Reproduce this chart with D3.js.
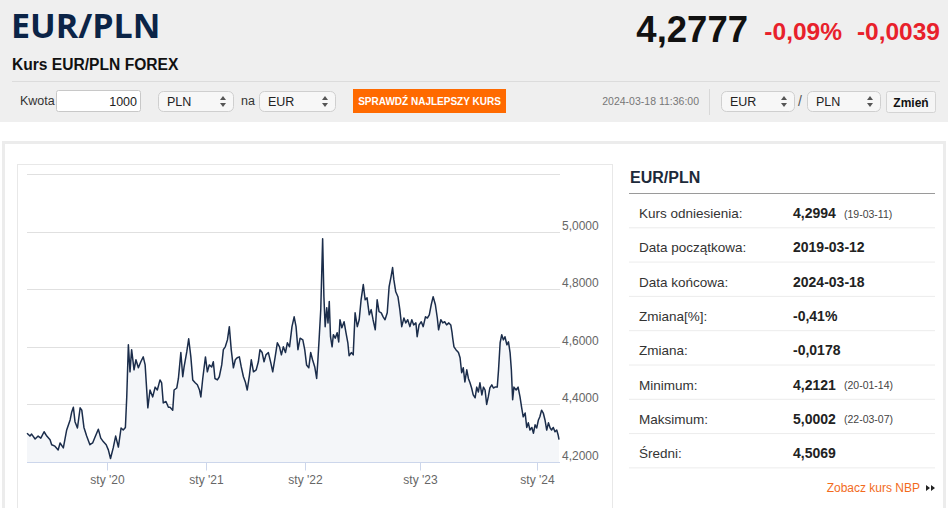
<!DOCTYPE html>
<meta charset="utf-8">
<script src="https://d3js.org/d3.v7.min.js"></script>
<style>
  body { margin: 0; background: #fff; }
  svg text { font-family: "Liberation Sans", Arial, sans-serif; }
</style>
<svg id="page" width="948" height="508"></svg>
<script>
// EUR/PLN daily rate
var dates = [
  "2019-03-12","2019-03-23","2019-03-29","2019-04-11","2019-04-22","2019-05-02","2019-05-14","2019-05-24",
  "2019-06-05","2019-06-11","2019-06-23","2019-07-05","2019-07-12","2019-07-24","2019-08-05","2019-08-18",
  "2019-08-24","2019-08-30","2019-09-05","2019-09-14","2019-09-24","2019-09-30","2019-10-08","2019-10-18",
  "2019-10-30","2019-11-09","2019-11-18","2019-11-30","2019-12-09","2019-12-19","2019-12-29",
  "2020-01-06","2020-01-14","2020-01-24","2020-02-02","2020-02-12","2020-02-22","2020-03-01","2020-03-09",
  "2020-03-14","2020-03-20","2020-03-26","2020-04-01","2020-04-10","2020-04-17","2020-04-26","2020-05-05",
  "2020-05-14","2020-05-21","2020-05-31","2020-06-08","2020-06-18","2020-06-27","2020-07-05","2020-07-15",
  "2020-07-21","2020-07-27","2020-08-06","2020-08-15","2020-08-21","2020-08-31","2020-09-05","2020-09-15",
  "2020-09-21","2020-09-30","2020-10-07","2020-10-12","2020-10-22","2020-10-29","2020-11-06","2020-11-13",
  "2020-11-22","2020-11-30","2020-12-08","2020-12-13","2020-12-20","2020-12-30",
  "2021-01-06","2021-01-13","2021-01-22","2021-01-28","2021-02-03","2021-02-12","2021-02-19","2021-02-28",
  "2021-03-06","2021-03-13","2021-03-21","2021-03-28","2021-04-04","2021-04-12","2021-04-19","2021-04-26",
  "2021-05-04","2021-05-11","2021-05-19","2021-05-26","2021-06-02","2021-06-10","2021-06-17","2021-06-25",
  "2021-07-05","2021-07-13","2021-07-19","2021-07-27","2021-08-03","2021-08-10","2021-08-19","2021-08-28",
  "2021-09-04","2021-09-13","2021-09-21","2021-09-29","2021-10-06","2021-10-13","2021-10-21","2021-10-28",
  "2021-11-05","2021-11-14","2021-11-22","2021-11-29","2021-12-06","2021-12-14","2021-12-24","2021-12-31",
  "2022-01-06","2022-01-13","2022-01-19","2022-01-25","2022-02-01","2022-02-07","2022-02-11","2022-02-15",
  "2022-02-20","2022-02-26","2022-03-02","2022-03-06","2022-03-11","2022-03-15","2022-03-19","2022-03-23",
  "2022-03-28","2022-04-01","2022-04-07","2022-04-13","2022-04-18","2022-04-22","2022-04-28","2022-05-05",
  "2022-05-11","2022-05-17","2022-05-21","2022-05-28","2022-06-03","2022-06-09","2022-06-16","2022-06-22",
  "2022-06-28","2022-07-05","2022-07-11","2022-07-17","2022-07-24","2022-07-30","2022-08-05","2022-08-12",
  "2022-08-18","2022-08-24","2022-08-31","2022-09-06","2022-09-12","2022-09-19","2022-09-25","2022-10-01",
  "2022-10-06","2022-10-10","2022-10-16","2022-10-23","2022-10-29","2022-11-04","2022-11-11","2022-11-17",
  "2022-11-23","2022-11-30","2022-12-06","2022-12-12","2022-12-19","2022-12-23","2022-12-29",
  "2023-01-05","2023-01-11","2023-01-18","2023-01-24","2023-01-30","2023-02-05","2023-02-11","2023-02-18",
  "2023-02-24","2023-02-28","2023-03-07","2023-03-13","2023-03-19","2023-03-25","2023-04-01","2023-04-07",
  "2023-04-11","2023-04-13","2023-04-17","2023-04-23","2023-05-01","2023-05-06","2023-05-11","2023-05-16",
  "2023-05-21","2023-05-27","2023-06-01","2023-06-06","2023-06-11","2023-06-16","2023-06-22","2023-06-27",
  "2023-07-02","2023-07-07","2023-07-13","2023-07-18","2023-07-23","2023-07-28","2023-08-02","2023-08-07",
  "2023-08-13","2023-08-18","2023-08-23","2023-08-30","2023-09-03","2023-09-08","2023-09-13","2023-09-18",
  "2023-09-23","2023-09-29","2023-10-04","2023-10-09","2023-10-13","2023-10-17","2023-10-21","2023-10-28",
  "2023-11-03","2023-11-09","2023-11-14","2023-11-19","2023-11-25","2023-11-30","2023-12-05","2023-12-10",
  "2023-12-16","2023-12-21","2023-12-26","2023-12-31",
  "2024-01-06","2024-01-11","2024-01-17","2024-01-23","2024-01-29","2024-02-04","2024-02-10","2024-02-16",
  "2024-02-21","2024-02-27","2024-03-04","2024-03-10","2024-03-15","2024-03-18"
];
var rates = [
  4.300,4.290,4.297,4.280,4.290,4.283,4.305,4.290,
  4.277,4.260,4.255,4.242,4.266,4.249,4.310,4.346,
  4.374,4.390,4.340,4.318,4.388,4.380,4.320,4.290,
  4.260,4.266,4.287,4.314,4.283,4.270,4.260,
  4.242,4.212,4.249,4.290,4.252,4.318,4.311,4.320,
  4.426,4.607,4.513,4.590,4.520,4.555,4.527,4.548,
  4.565,4.537,4.388,4.450,4.426,4.460,4.450,4.485,
  4.475,4.405,4.410,4.390,4.390,4.380,4.450,4.457,
  4.490,4.580,4.496,4.530,4.583,4.628,4.565,4.485,
  4.475,4.468,4.450,4.426,4.490,4.565,
  4.513,4.537,4.530,4.548,4.490,4.485,4.496,4.537,
  4.590,4.600,4.624,4.670,4.590,4.527,4.555,4.562,
  4.565,4.530,4.496,4.478,4.450,4.500,4.555,4.513,
  4.520,4.548,4.590,4.580,4.548,4.572,4.580,4.544,
  4.513,4.565,4.614,4.600,4.572,4.600,4.580,4.614,
  4.600,4.670,4.704,4.670,4.590,4.630,4.624,4.590,
  4.537,4.527,4.580,4.555,4.530,4.490,4.555,4.630,
  4.729,4.975,4.774,4.670,4.736,4.683,4.757,4.635,
  4.600,4.642,4.630,4.649,4.617,4.694,4.666,4.687,
  4.649,4.614,4.569,4.580,4.572,4.718,4.670,4.694,
  4.763,4.816,4.763,4.770,4.711,4.729,4.694,4.659,
  4.763,4.722,4.718,4.704,4.694,4.718,4.809,4.843,
  4.875,4.833,4.791,4.774,4.729,4.670,4.700,4.683,
  4.694,4.670,4.694,4.676,4.683,4.635,4.676,
  4.687,4.670,4.704,4.700,4.711,4.746,4.774,4.746,
  4.700,4.659,4.694,4.683,4.687,4.676,4.683,4.676,
  4.649,4.630,4.600,4.590,4.580,4.562,4.510,4.527,
  4.478,4.520,4.490,4.475,4.457,4.433,4.423,4.460,
  4.443,4.475,4.433,4.460,4.450,4.400,4.426,4.457,
  4.468,4.457,4.460,4.460,4.520,4.614,4.642,4.624,
  4.635,4.607,4.617,4.580,4.520,4.416,4.460,4.450,
  4.460,4.426,4.390,4.357,4.370,4.320,4.336,4.311,
  4.320,4.300,4.329,4.318,
  4.346,4.357,4.380,4.370,4.346,4.311,4.336,4.318,
  4.311,4.320,4.305,4.311,4.294,4.2777
];

// ordinal-style axis breakpoints (start, year starts, end)
var axisBreaks = ["2019-03-12","2020-01-01","2021-01-01","2022-01-01","2023-01-01","2024-01-01","2024-03-18"];
var xTickDates = ["2020-01-01","2021-01-01","2022-01-01","2023-01-01","2024-01-01"];
var xTickLabels = ["sty '20","sty '21","sty '22","sty '23","sty '24"];
var yTicks = [4.2, 4.4, 4.6, 4.8, 5.0, 5.2];
var yTickLabels = ["4,2000","4,4000","4,6000","4,8000","5,0000",""];

var statLabels = ["Kurs odniesienia:","Data początkowa:","Data końcowa:","Zmiana[%]:","Zmiana:","Minimum:","Maksimum:","Średni:"];
var statValues = ["4,2994","2019-03-12","2024-03-18","-0,41%","-0,0178","4,2121","5,0002","4,5069"];
var statNotes  = ["(19-03-11)","","","","","(20-01-14)","(22-03-07)",""];

var parse = d3.timeParse("%Y-%m-%d");
var data = dates.map(function(d, i) { return { date: parse(d), rate: rates[i] }; });

var svg = d3.select("#page");

// ---------- header ----------
svg.append("rect").attr("x", 0).attr("y", 0).attr("width", 948).attr("height", 122).attr("fill", "#efefef");

svg.append("text").attr("x", 11).attr("y", 38)
  .style("font-family", "'Open Sans', sans-serif").style("font-weight", 700)
  .style("font-size", "34px").attr("fill", "#0b2447").text("EUR/PLN");

svg.append("text").attr("x", 12).attr("y", 70)
  .style("font-weight", "bold").style("font-size", "15.6px").attr("fill", "#111")
  .text("Kurs EUR/PLN FOREX");

svg.append("text").attr("x", 748).attr("y", 42).attr("text-anchor", "end")
  .style("font-weight", "bold").style("font-size", "36.5px").attr("fill", "#111").text("4,2777");
svg.append("text").attr("x", 842).attr("y", 40).attr("text-anchor", "end")
  .style("font-weight", "bold").style("font-size", "24.5px").attr("fill", "#e8212b").text("-0,09%");
svg.append("text").attr("x", 940).attr("y", 40).attr("text-anchor", "end")
  .style("font-weight", "bold").style("font-size", "24.5px").attr("fill", "#e8212b").text("-0,0039");

svg.append("line").attr("x1", 12).attr("x2", 940).attr("y1", 81.5).attr("y2", 81.5)
  .attr("stroke", "#dcdcdc");

// controls row
svg.append("text").attr("x", 20).attr("y", 105).style("font-size", "12.5px").attr("fill", "#333").text("Kwota");
svg.append("rect").attr("x", 56.5).attr("y", 90.5).attr("width", 84).attr("height", 21)
  .attr("fill", "#fff").attr("stroke", "#c8c8c8").attr("rx", 2);
svg.append("text").attr("x", 137).attr("y", 106).attr("text-anchor", "end")
  .style("font-size", "12.5px").attr("fill", "#222").text("1000");

function selectBox(x, w, label) {
  var g = svg.append("g").attr("transform", "translate(" + x + ",91)");
  g.append("rect").attr("x", 0.5).attr("y", 0.5).attr("width", w).attr("height", 20)
    .attr("rx", 5).attr("fill", "#f7f7f7").attr("stroke", "#cfcfcf");
  g.append("text").attr("x", 9).attr("y", 15).style("font-size", "12.5px").attr("fill", "#222").text(label);
  g.append("path").attr("d", "M" + (w - 13) + ",9 l3,-4 l3,4 z M" + (w - 13) + ",12 l3,4 l3,-4 z").attr("fill", "#555");
}
selectBox(158, 75, "PLN");
svg.append("text").attr("x", 241).attr("y", 105).style("font-size", "12.5px").attr("fill", "#333").text("na");
selectBox(259, 76, "EUR");

svg.append("rect").attr("x", 353).attr("y", 89).attr("width", 153).attr("height", 24).attr("fill", "#ff6a00");
svg.append("text").attr("x", 429.5).attr("y", 105).attr("text-anchor", "middle")
  .style("font-weight", "bold").style("font-size", "10px").attr("fill", "#fff")
  .text("SPRAWDŹ NAJLEPSZY KURS");

svg.append("text").attr("x", 699).attr("y", 105).attr("text-anchor", "end")
  .style("font-size", "10.5px").attr("fill", "#777").text("2024-03-18 11:36:00");
svg.append("line").attr("x1", 709.5).attr("x2", 709.5).attr("y1", 89).attr("y2", 115).attr("stroke", "#d8d8d8");

selectBox(721, 73, "EUR");
svg.append("text").attr("x", 798).attr("y", 106).style("font-size", "14px").attr("fill", "#555").text("/");
selectBox(807, 73, "PLN");

svg.append("rect").attr("x", 886.5).attr("y", 91.5).attr("width", 49).attr("height", 21)
  .attr("rx", 2).attr("fill", "#f5f5f5").attr("stroke", "#d4d4d4");
svg.append("text").attr("x", 911).attr("y", 106.5).attr("text-anchor", "middle")
  .style("font-weight", "bold").style("font-size", "12px").attr("fill", "#111").text("Zmień");

// ---------- panel ----------
svg.append("rect").attr("x", 3.5).attr("y", 142.5).attr("width", 941).attr("height", 380)
  .attr("fill", "#fff").attr("stroke", "#ececec").attr("stroke-width", 3);
svg.append("rect").attr("x", 17.5).attr("y", 164.5).attr("width", 595).attr("height", 360)
  .attr("fill", "#fff").attr("stroke", "#e8e8e8");

// ---------- chart ----------
var x = d3.scaleTime()
  .domain(axisBreaks.map(parse))
  .range([27, 107, 206, 305, 420, 537, 559]);
var y = d3.scaleLinear().domain([4.2, 5.2]).range([462, 174]);

var chart = svg.append("g");

chart.selectAll(".grid").data(yTicks).enter().append("line")
  .attr("x1", 27).attr("x2", 560)
  .attr("y1", function(d) { return Math.round(y(d)) + 0.5; })
  .attr("y2", function(d) { return Math.round(y(d)) + 0.5; })
  .attr("stroke", "#e0e0e0");

chart.append("path").datum(data)
  .attr("fill", "#f4f6f9")
  .attr("d", d3.area().x(function(d) { return x(d.date); }).y0(y(4.2)).y1(function(d) { return y(d.rate); }));

chart.append("path").datum(data)
  .attr("fill", "none").attr("stroke", "#1b2d4b").attr("stroke-width", 1.5).attr("stroke-linejoin", "round")
  .attr("d", d3.line().x(function(d) { return x(d.date); }).y(function(d) { return y(d.rate); }));

// x axis
var xAxis = d3.axisBottom(x)
  .tickValues(xTickDates.map(parse))
  .tickFormat(function(d, i) { return xTickLabels[i]; })
  .tickSize(8).tickPadding(5);
var gx = chart.append("g").attr("transform", "translate(0," + (y(4.2) + 0.5) + ")").call(xAxis);
gx.select(".domain").attr("stroke", "#ccd6eb").attr("d", "M27,0H560");
gx.selectAll(".tick line").attr("stroke", "#ccd6eb");
gx.selectAll(".tick text").attr("fill", "#666").style("font-size", "12px")
  .style("font-family", "'Liberation Sans', Arial, sans-serif");

// y labels
chart.selectAll(".ylab").data(yTicks).enter().append("text")
  .attr("x", 562).attr("y", function(d) { return y(d) - 2; })
  .style("font-size", "12px").attr("fill", "#666")
  .text(function(d, i) { return yTickLabels[i]; });

// ---------- stats table ----------
var t = svg.append("g");
t.append("text").attr("x", 630).attr("y", 183).style("font-weight", "bold").style("font-size", "16px")
  .attr("fill", "#1d2a3a").text("EUR/PLN");
t.append("line").attr("x1", 629).attr("x2", 935).attr("y1", 193.5).attr("y2", 193.5).attr("stroke", "#9a9a9a");

var rowH = 34.3;
var rows = t.selectAll(".row").data(statLabels).enter().append("g")
  .attr("transform", function(d, i) { return "translate(0," + (194 + i * rowH) + ")"; });
rows.append("line").attr("x1", 629).attr("x2", 935).attr("y1", rowH - 0.5).attr("y2", rowH - 0.5).attr("stroke", "#ececec");
rows.append("text").attr("x", 639).attr("y", 24).style("font-size", "13.5px").attr("fill", "#333")
  .text(function(d) { return d; });
rows.append("text").attr("x", 793).attr("y", 24).style("font-weight", "bold").style("font-size", "14px").attr("fill", "#222")
  .text(function(d, i) { return statValues[i]; });
rows.append("text").attr("x", 844).attr("y", 23.5).style("font-size", "10.5px").attr("fill", "#444")
  .text(function(d, i) { return statNotes[i]; });

t.append("text").attr("x", 920).attr("y", 492).attr("text-anchor", "end").style("font-size", "12px")
  .attr("fill", "#f26b1d").text("Zobacz kurs NBP");
t.append("path").attr("d", "M926,485 l4,3 l-4,3 z M931,485 l4,3 l-4,3 z").attr("fill", "#222");
</script>
